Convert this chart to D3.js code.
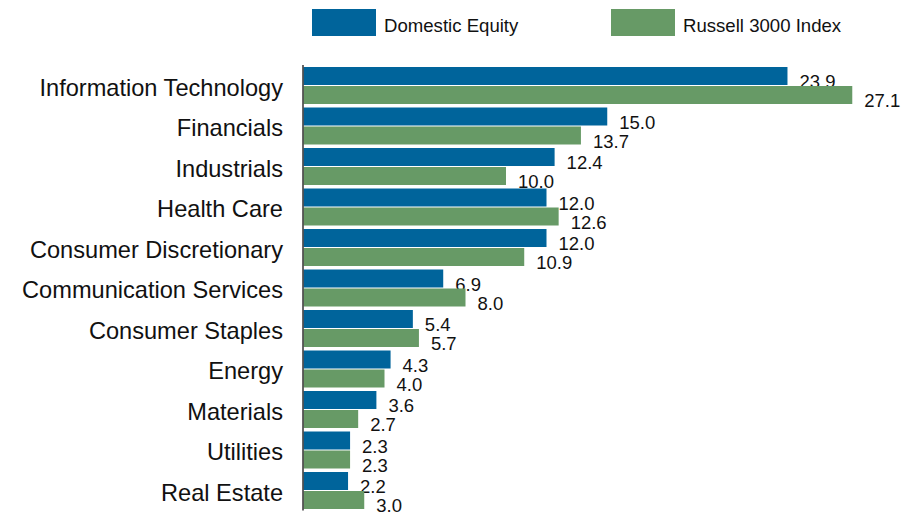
<!DOCTYPE html>
<html lang="en">
<head>
<meta charset="UTF-8">
<title>Sector Weights</title>
<script src="https://d3js.org/d3.v7.min.js"></script>
<style>
    body { margin: 0; background: #fff; }
    svg { font-family: "Liberation Sans", Arial, sans-serif; }
    .cat { font-size: 23.6px; fill: #111; }
    .val { font-size: 18.5px; fill: #111; }
    .leg { font-size: 18.6px; fill: #111; }
</style>
</head>
<body>
<svg width="919" height="514"></svg>
<script>
    const categories = ["Information Technology", "Financials", "Industrials", "Health Care",
        "Consumer Discretionary", "Communication Services", "Consumer Staples", "Energy",
        "Materials", "Utilities", "Real Estate"];
    const seriesNames = ["Domestic Equity", "Russell 3000 Index"];
    const domesticEquity = [23.9, 15.0, 12.4, 12.0, 12.0, 6.9, 5.4, 4.3, 3.6, 2.3, 2.2];
    const russell3000 = [27.1, 13.7, 10.0, 12.6, 10.9, 8.0, 5.7, 4.0, 2.7, 2.3, 3.0];
    const colors = ["#00649b", "#679a66"];

    const svg = d3.select("svg");

    const x = d3.scaleLinear().domain([0, 30]).range([303.5, 911]);
    const y = d3.scaleBand().domain(categories).range([65.25, 510.75])
        .paddingInner(0.0864).paddingOuter(0.0432);
    const ySub = d3.scaleBand().domain([0, 1]).range([0, y.bandwidth()])
        .paddingInner(0.0526);

    // category labels
    svg.append("g").selectAll("text")
        .data(categories)
        .enter().append("text")
        .attr("class", "cat")
        .attr("x", 283)
        .attr("y", d => y(d) + y.bandwidth() / 2)
        .attr("dy", "0.44em")
        .attr("text-anchor", "end")
        .text(d => d);

    // one layer of bars + labels per series, green drawn over blue labels
    [domesticEquity, russell3000].forEach(function (vals, i) {
        const g = svg.append("g");
        g.selectAll("rect")
            .data(vals)
            .enter().append("rect")
            .attr("x", x(0))
            .attr("y", (d, j) => y(categories[j]) + ySub(i))
            .attr("width", d => x(d) - x(0))
            .attr("height", ySub.bandwidth())
            .attr("fill", colors[i]);
        g.selectAll("text")
            .data(vals)
            .enter().append("text")
            .attr("class", "val")
            .attr("x", d => x(d) + 12)
            .attr("y", (d, j) => y(categories[j]) + ySub(i) + ySub.bandwidth() + 3.2)
            .text(d => d.toFixed(1));
    });

    // axis line
    svg.append("line")
        .attr("x1", 303).attr("x2", 303)
        .attr("y1", 65).attr("y2", 510.5)
        .attr("stroke", "#333")
        .attr("stroke-width", 1.5);

    // legend
    const legX = [312, 611];
    const leg = svg.append("g").selectAll("g")
        .data(seriesNames)
        .enter().append("g")
        .attr("transform", (d, i) => `translate(${legX[i]},9)`);
    leg.append("rect")
        .attr("width", 64).attr("height", 27)
        .attr("fill", (d, i) => colors[i]);
    leg.append("text")
        .attr("class", "leg")
        .attr("x", 72)
        .attr("y", 22.5)
        .text(d => d);
</script>
</body>
</html>
